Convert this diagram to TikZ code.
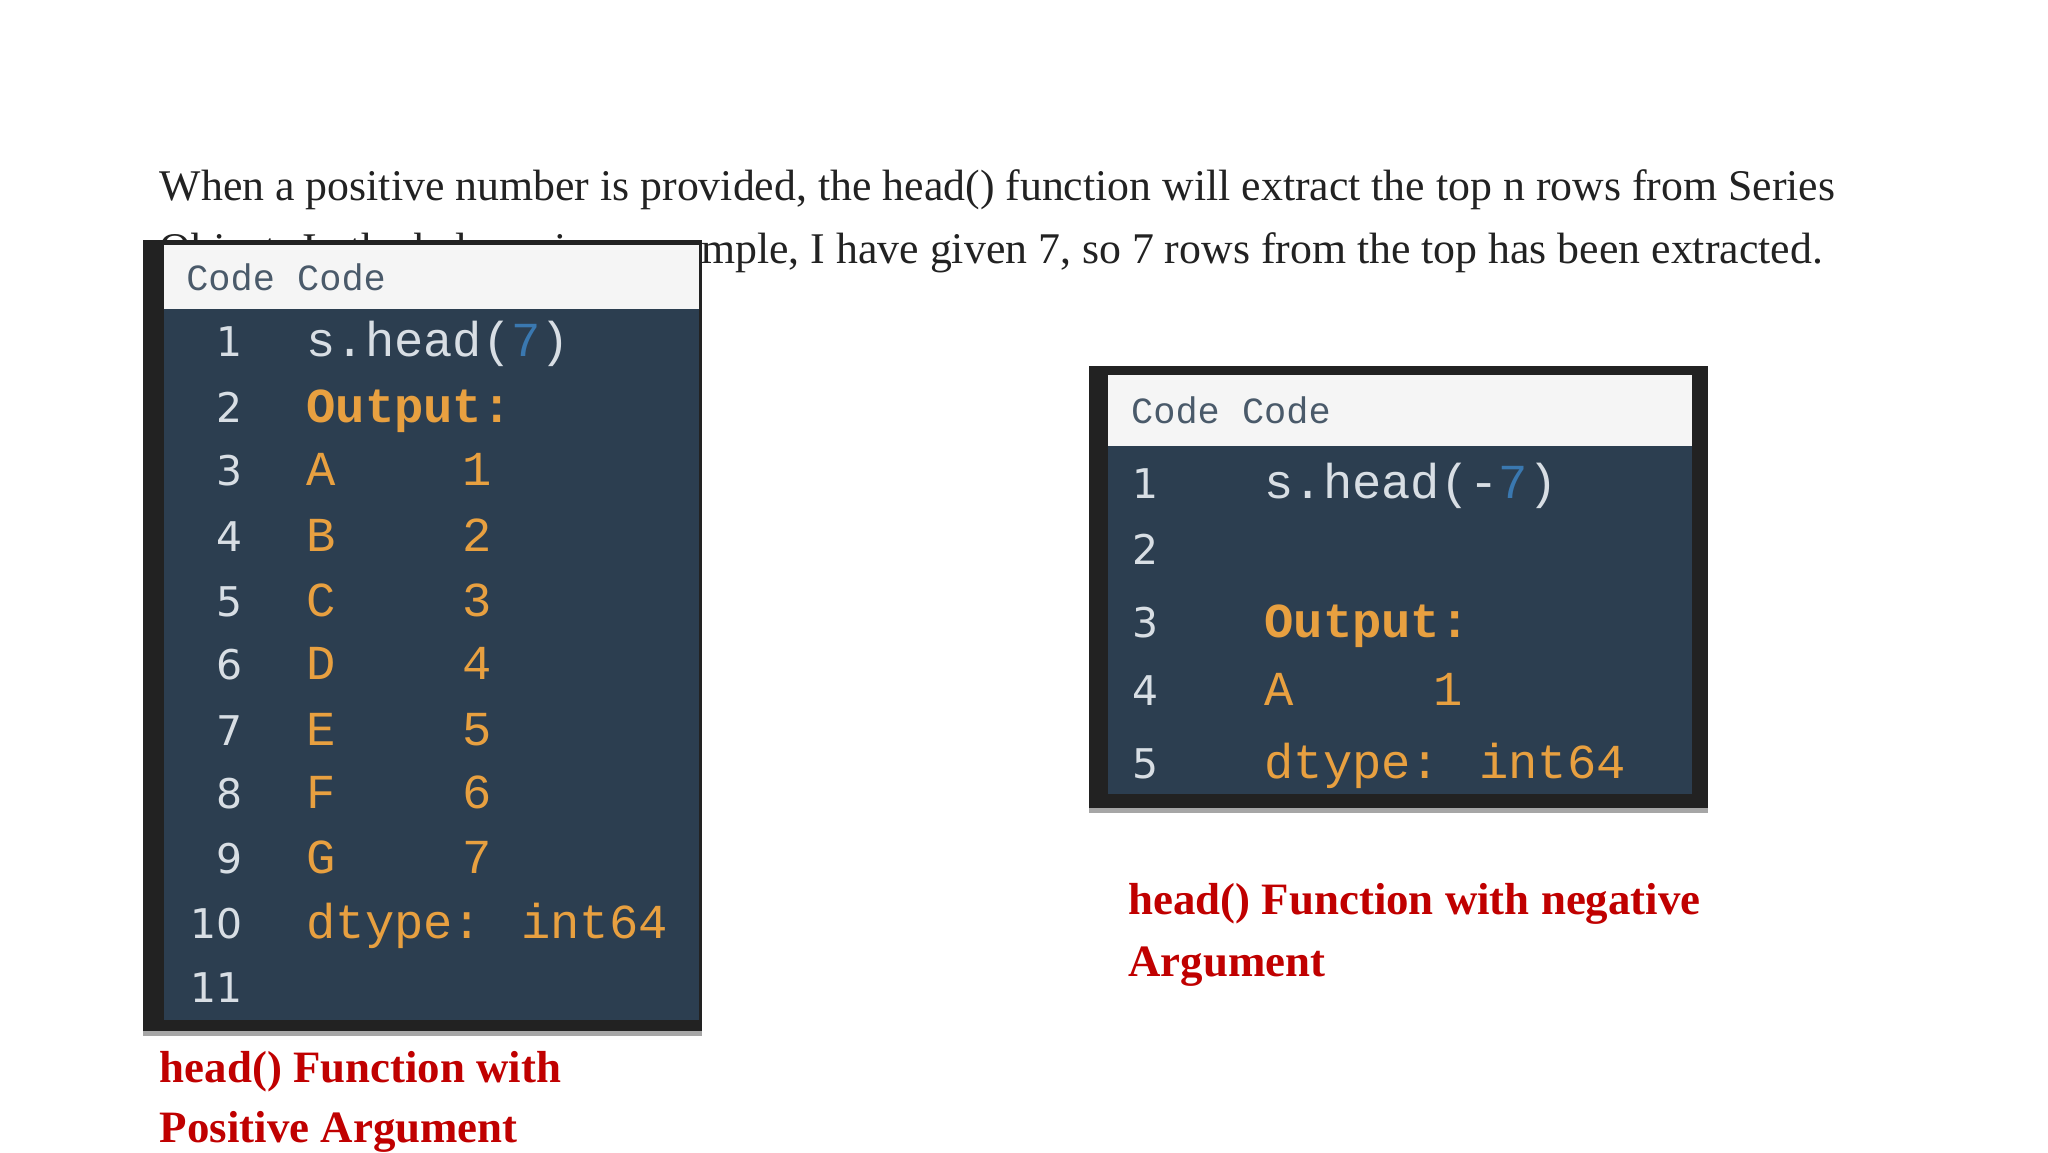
\documentclass[tikz,border=0pt]{standalone}
\usepackage{fontspec}
\setmainfont{Liberation Serif}
\newfontfamily\codefont{Liberation Mono}
\newfontfamily\numfont{DejaVu Sans}
\definecolor{codebg}{HTML}{2C3E50}
\definecolor{frame}{HTML}{222222}
\definecolor{hdrtxt}{HTML}{4A5A6A}
\definecolor{lnum}{HTML}{D8DEE4}
\definecolor{orng}{HTML}{E8A040}
\definecolor{numblue}{HTML}{3A78B0}
\definecolor{capred}{HTML}{C00000}
\definecolor{bodytxt}{HTML}{222222}
\begin{document}
\begin{tikzpicture}[x=1pt,y=-1pt,
  body/.style={anchor=base west,inner sep=0,font=\fontsize{33.2}{36}\selectfont,text=bodytxt},
  hdr/.style={anchor=base west,inner sep=0,font=\codefont\fontsize{28}{30}\selectfont,text=hdrtxt},
  ln/.style={anchor=base east,inner sep=0,font=\numfont\fontsize{31}{36}\selectfont,text=lnum},
  lnl/.style={anchor=base west,inner sep=0,font=\numfont\fontsize{31}{36}\selectfont,text=lnum},
  cd/.style={anchor=base west,inner sep=0,font=\codefont\fontsize{37}{40}\selectfont,text=orng},
  captxt/.style={anchor=base west,inner sep=0,font=\bfseries\fontsize{34}{36}\selectfont,text=capred}]
\useasboundingbox (0,0) rectangle (1552,873);
\fill[white] (0,0) rectangle (1552,873);
\node[body] (p1) at (121,152) {When a positive number is provided, the head() function will extract the top n rows from Series};
\node[body] (p2) at (121,200) {Object. In the below given example, I have given 7, so 7 rows from the top has been extracted.};
% left box
\fill[gray!70] (108,780) rectangle (532,785);
\fill[frame] (108,182) rectangle (532,781);
\fill[white!96!black] (124,186) rectangle (530,234);
\fill[codebg] (124,234) rectangle (530,773);
\node[hdr] (lh) at (141,220) {Code Code};
\foreach \n/\y in {1/270,2/320,3/368,4/418,5/467,6/515,7/565,8/613,9/662,10/711,11/760}
  \node[ln] (l\n) at (184,\y) {\n};
\node[cd,text=lnum] (lc1) at (232,270) {s.head(\textcolor{numblue}{7})};
\node[cd,font=\codefont\bfseries\fontsize{37}{40}\selectfont] (lc2) at (232,320) {Output:};
\foreach \n/\y/\a/\b in {3/368/A/1,4/418/B/2,5/467/C/3,6/515/D/4,7/565/E/5,8/613/F/6,9/662/G/7}{
  \node[cd] (la\n) at (232,\y) {\a};
  \node[cd] (lb\n) at (350,\y) {\b};}
\node[cd] (lc10) at (232,711) {dtype: int64};
% right box
\fill[gray!70] (825,610) rectangle (1294,616);
\fill[frame] (825,277) rectangle (1294,612);
\fill[white!96!black] (840,284) rectangle (1282,338);
\fill[codebg] (840,338) rectangle (1282,602);
\node[hdr] (rh) at (857,321) {Code Code};
\foreach \n/\y in {1/378,2/428,3/483,4/535,5/590}
  \node[lnl] (r\n) at (858,\y) {\n};
\node[cd,text=lnum] (rc1) at (958,378) {s.head(-\textcolor{numblue}{7})};
\node[cd,font=\codefont\bfseries\fontsize{37}{40}\selectfont] (rc3) at (958,483) {Output:};
\node[cd] (ra4) at (958,535) {A};
\node[cd] (rb4) at (1086,535) {1};
\node[cd] (rc5) at (958,590) {dtype: int64};
% captions
\node[captxt] (c1) at (855,693) {head() Function with negative};
\node[captxt] (c2) at (855,740) {Argument};
\node[captxt] (c3) at (121,820) {head() Function with};
\node[captxt] (c4) at (121,866) {Positive Argument};
\end{tikzpicture}
\end{document}
